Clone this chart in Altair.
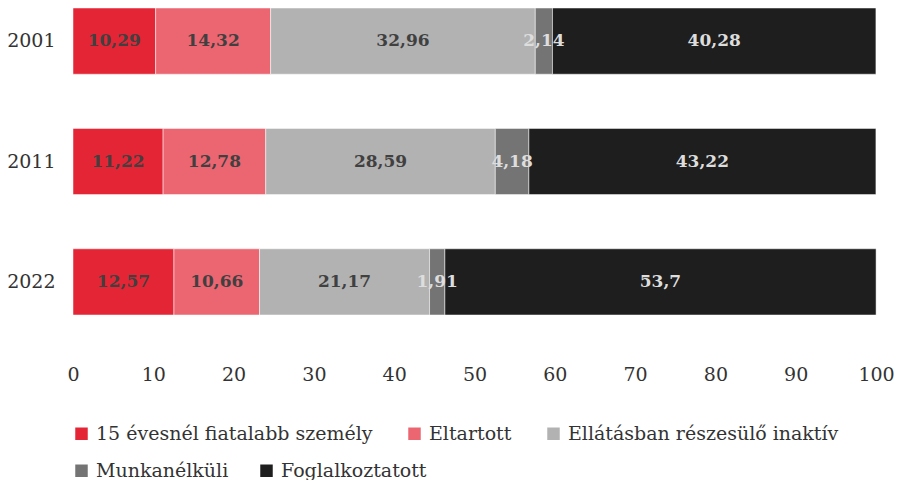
import altair as alt
import pandas as pd

years = ["2001", "2011", "2022"]
categories = [
    "15 évesnél fiatalabb személy",
    "Eltartott",
    "Ellátásban részesülő inaktív",
    "Munkanélküli",
    "Foglalkoztatott",
]
v_fiatal = [10.29, 11.22, 12.57]
v_eltartott = [14.32, 12.78, 10.66]
v_inaktiv = [32.96, 28.59, 21.17]
v_munkanelkuli = [2.14, 4.18, 1.91]
v_foglalkoztatott = [40.28, 43.22, 53.7]
colors = ["#e42535", "#ec6672", "#b2b2b2", "#747474", "#1e1e1e"]
label_colors = ["#404040", "#404040", "#404040", "#dddddd", "#dddddd"]

series = [v_fiatal, v_eltartott, v_inaktiv, v_munkanelkuli, v_foglalkoztatott]
rows = []
for ci, (cat, vals) in enumerate(zip(categories, series)):
    for yi, yr in enumerate(years):
        rows.append({
            "year": yr,
            "cat": cat,
            "idx": ci,
            "value": vals[yi],
            "label": str(vals[yi]).replace(".", ","),
            "lcolor": label_colors[ci],
        })
df = pd.DataFrame(rows)

FONT = "DejaVu Serif"

base = alt.Chart(df).transform_stack(
    stack="value", groupby=["year"], as_=["x0", "x1"],
    sort=[alt.SortField("idx", order="ascending")],
).transform_calculate(mid="(datum.x0 + datum.x1) / 2")

y_enc = alt.Y(
    "year:N", sort=years, title=None,
    scale=alt.Scale(paddingInner=0.45, paddingOuter=0),
    axis=alt.Axis(labelFont=FONT, labelFontSize=19, labelColor="#333333",
                  labelPadding=18, ticks=False, domain=False, grid=False),
)

x_enc = alt.X("x0:Q", title=None,
              scale=alt.Scale(domain=[0, 100], nice=False),
              axis=alt.Axis(values=list(range(0, 101, 10)), labelFont=FONT,
                            labelFontSize=19, labelColor="#333333",
                            labelPadding=50, labelFlush=False, ticks=False,
                            domain=False, grid=False))


def legend(y, pad):
    return alt.Legend(
        title=None, orient="none", legendX=-1, legendY=y,
        direction="horizontal", columnPadding=pad,
        symbolType="square", symbolSize=156, symbolStrokeWidth=0,
        labelFont=FONT, labelFontSize=19, labelColor="#333333",
        labelOffset=5, labelLimit=0,
    )


bars1 = base.transform_filter("datum.idx < 3").mark_bar(
    stroke="white", strokeWidth=0.5).encode(
    x=x_enc, x2="x1:Q", y=y_enc,
    fill=alt.Fill("cat:N",
                  scale=alt.Scale(domain=categories[:3], range=colors[:3]),
                  legend=legend(416, 32)),
)

bars2 = base.transform_filter("datum.idx >= 3").mark_bar(
    stroke="white", strokeWidth=0.5).encode(
    x=x_enc, x2="x1:Q", y=y_enc,
    color=alt.Color("cat:N",
                    scale=alt.Scale(domain=categories[3:], range=colors[3:]),
                    legend=legend(453, 28)),
)

texts = base.mark_text(font=FONT, fontSize=17, fontWeight="bold").encode(
    x="mid:Q",
    y=alt.Y("year:N", sort=years),
    text="label:N",
    color=alt.Color("lcolor:N", scale=None),
)

chart = alt.layer(bars1, bars2, texts).resolve_scale(
    color="independent", fill="independent"
).properties(
    width=803, height=307,
    autosize=alt.AutoSizeParams(type="none"),
    padding={"left": 65, "top": 0, "right": 18, "bottom": 165},
).configure_view(stroke=None)

chart.save("out.html", embed_options={"renderer": "svg", "actions": False})
